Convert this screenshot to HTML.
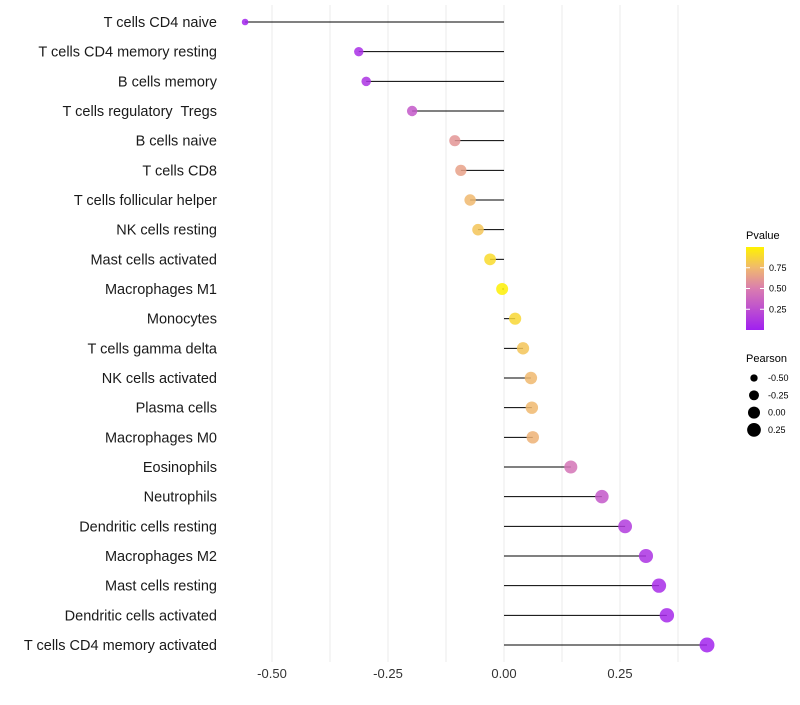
<!DOCTYPE html>
<html><head><meta charset="utf-8"><style>
body{margin:0;background:#fff;font-family:"Liberation Sans",sans-serif;}
svg text{font-family:"Liberation Sans",sans-serif;white-space:pre;}
</style></head><body>
<svg id="c" width="800" height="700"></svg>
<script>
const categories=["T cells CD4 naive","T cells CD4 memory resting","B cells memory","T cells regulatory  Tregs","B cells naive","T cells CD8","T cells follicular helper","NK cells resting","Mast cells activated","Macrophages M1","Monocytes","T cells gamma delta","NK cells activated","Plasma cells","Macrophages M0","Eosinophils","Neutrophils","Dendritic cells resting","Macrophages M2","Mast cells resting","Dendritic cells activated","T cells CD4 memory activated"];
const pearson=[-0.558,-0.313,-0.297,-0.198,-0.106,-0.093,-0.073,-0.056,-0.030,-0.004,0.024,0.041,0.058,0.060,0.062,0.144,0.211,0.261,0.306,0.334,0.351,0.4375];
const pvalue=[0.02,0.08,0.1,0.3,0.6,0.65,0.75,0.8,0.9,0.99,0.88,0.8,0.75,0.75,0.72,0.45,0.3,0.15,0.1,0.07,0.05,0.02];
const xTicks=[-0.5,-0.25,0,0.25];
const xTickLabels=["-0.50","-0.25","0.00","0.25"];
const pTicks=[0.25,0.5,0.75];
const sizeBreaks=[-0.5,-0.25,0,0.25];
const NS="http://www.w3.org/2000/svg";
const svg=document.getElementById('c');
const xs=v=>504+v*464;
const ys=i=>22+i*(623/21);
const rs=v=>Math.sqrt(Math.max(4,36+45*v));
const pcy=p=>330-p*83;
function col(p){const st=[[0,[160,32,240]],[0.5,[218,125,175]],[0.75,[240,185,110]],[1,[255,242,0]]];
for(let k=0;k<st.length-1;k++){const[a,ca]=st[k],[b,cb]=st[k+1];if(p<=b){const t=(p-a)/(b-a);return `rgb(${ca.map((c,j)=>Math.round(c+(cb[j]-c)*t)).join(',')})`;}}return 'rgb(255,242,0)';}
function mk(t,at,parent){const e=document.createElementNS(NS,t);for(const k in at)e.setAttribute(k,at[k]);(parent||svg).appendChild(e);return e;}
for(let v=-0.5;v<=0.38;v+=0.125){const g=mk('line',{x1:xs(v),x2:xs(v),y1:5,y2:662,stroke:'#ebebeb','stroke-width':1});

}
xTicks.forEach((v,i)=>{const t=mk('text',{x:xs(v),y:678,'text-anchor':'middle','font-size':13,fill:'#333'});t.textContent=xTickLabels[i];

});
categories.forEach((c,i)=>{const y=ys(i);
const t=mk('text',{x:217,y:y+5,'text-anchor':'end','font-size':14.5,fill:'#1a1a1a'});t.textContent=c;


const l=mk('line',{x1:xs(0),x2:xs(pearson[i]),y1:y,y2:y,stroke:'#000','stroke-width':1});


const p=mk('circle',{cx:xs(pearson[i]),cy:y,r:rs(pearson[i]),fill:col(pvalue[i]),'fill-opacity':0.85});

});
const defs=mk('defs',{});const lg=mk('linearGradient',{id:'g',x1:0,y1:1,x2:0,y2:0},defs);
[0,0.25,0.5,0.75,1].forEach(p=>mk('stop',{offset:p,'stop-color':col(p)},lg));
let t=mk('text',{x:746,y:239,'font-size':11,fill:'#000'});t.textContent='Pvalue';


const bar=mk('rect',{x:746,y:pcy(1),width:18,height:83,fill:'url(#g)'});


pTicks.forEach(p=>{mk('line',{x1:746,x2:750,y1:pcy(p),y2:pcy(p),stroke:'#fff'});mk('line',{x1:760,x2:764,y1:pcy(p),y2:pcy(p),stroke:'#fff'});
const tt=mk('text',{x:769,y:pcy(p)+3,'font-size':9,fill:'#000'});tt.textContent=p.toFixed(2);

});
t=mk('text',{x:746,y:362,'font-size':11,fill:'#000'});t.textContent='Pearson';


sizeBreaks.forEach((v,i)=>{const y=378+i*17.3;const c=mk('circle',{cx:754,cy:y,r:rs(v),fill:'#000'});


const tt=mk('text',{x:768,y:y+3,'font-size':9,fill:'#000'});tt.textContent=v.toFixed(2);

});
</script>
</body></html>
